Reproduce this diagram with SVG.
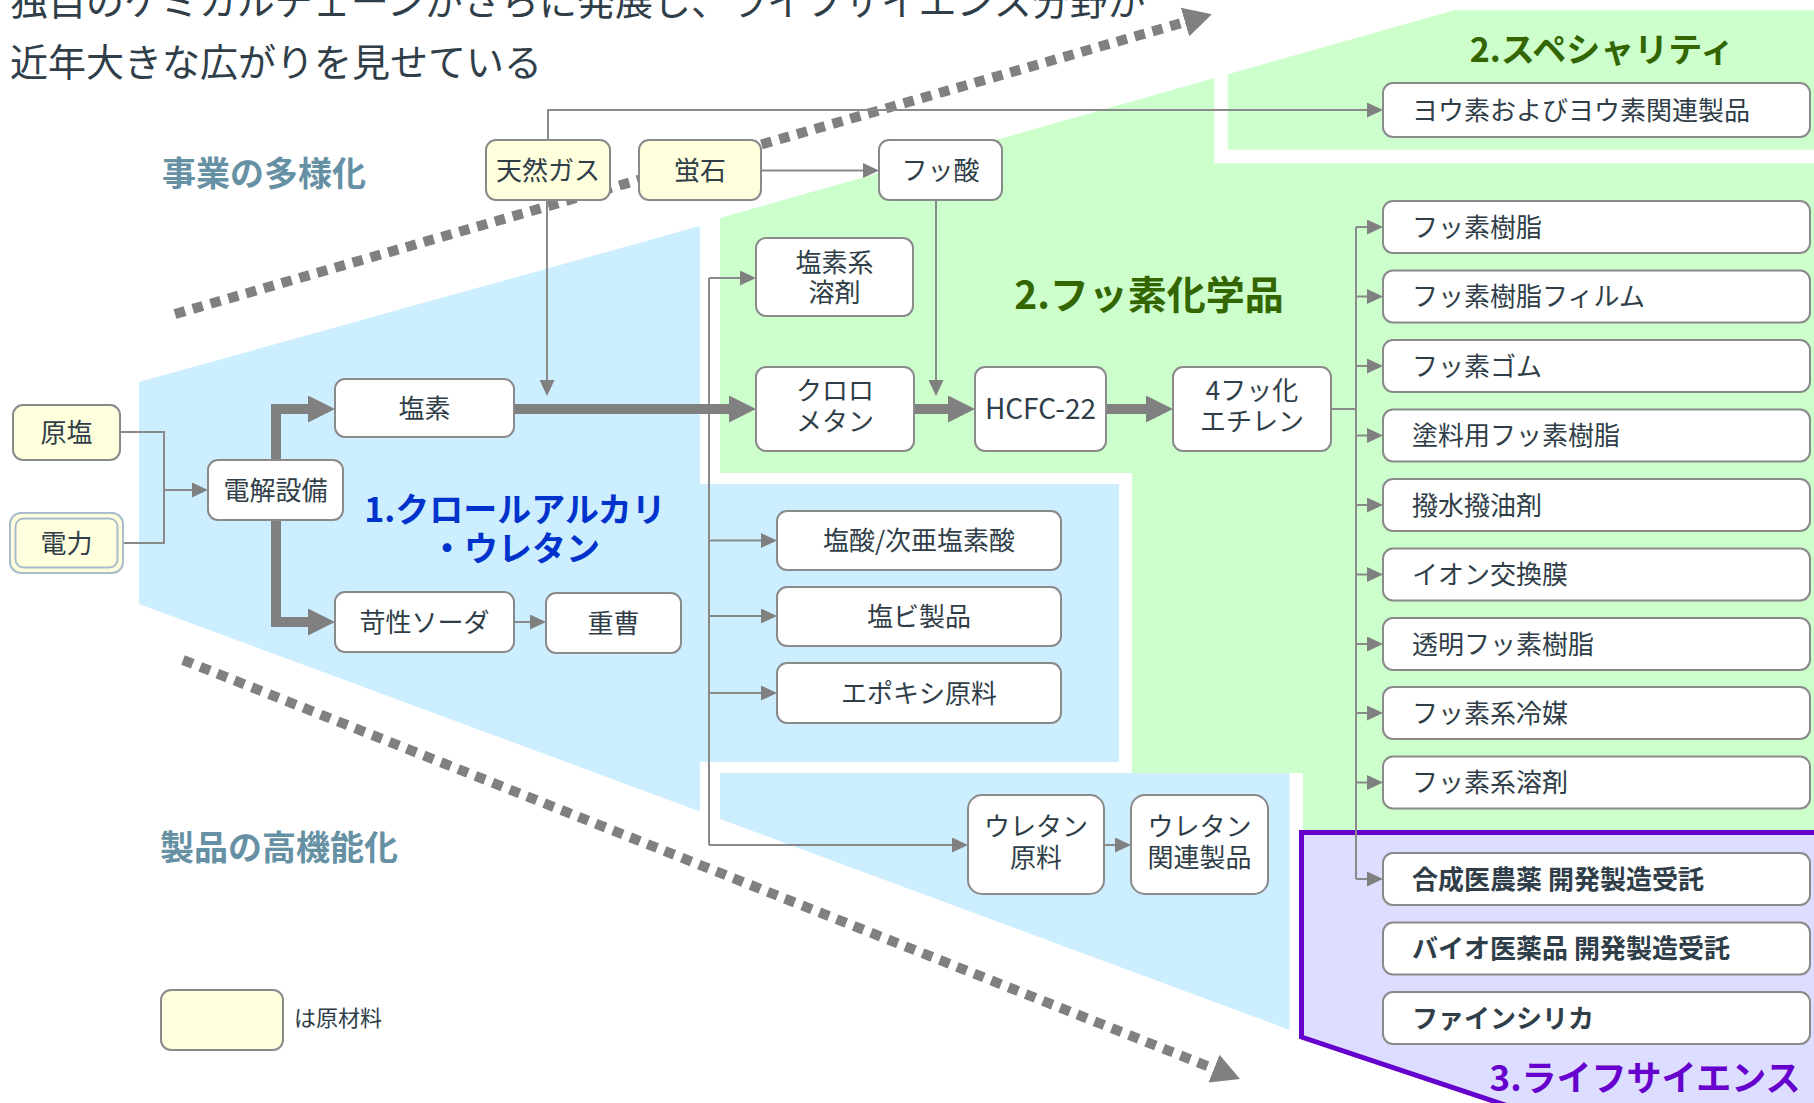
<svg xmlns="http://www.w3.org/2000/svg" width="1814" height="1103" viewBox="0 0 1814 1103">
<defs>
<style>
text{font-family:"Noto Sans CJK JP","Noto Sans",sans-serif;fill:#2f3e48}
.t{font-size:26px}
.c{text-anchor:middle}
.b{font-weight:bold}
.box{fill:#ffffff;stroke:#8a8a8a;stroke-width:2}
.raw{fill:#ffffdd;stroke:#8a8a8a;stroke-width:2}
.thin{fill:none;stroke:#8a8a8a;stroke-width:2}
.thick{fill:none;stroke:#808080;stroke-width:10;stroke-linejoin:miter}
.dot{fill:none;stroke:#808080;stroke-width:10;stroke-dasharray:10.5 8}
.sec{font-weight:bold;font-size:34px;fill:#6690a3}
</style>
<marker id="ah" markerUnits="userSpaceOnUse" markerWidth="16" markerHeight="15" refX="0" refY="7.5" orient="auto"><path d="M0,0 L16,7.5 L0,15 z" fill="#808080"/></marker>
<marker id="ahb" markerUnits="userSpaceOnUse" markerWidth="27" markerHeight="27" refX="0" refY="13.5" orient="auto"><path d="M0,0 L27,13.5 L0,27 z" fill="#808080"/></marker>
<marker id="ahd" markerUnits="userSpaceOnUse" markerWidth="28" markerHeight="30" refX="0" refY="15" orient="auto"><path d="M0,0 L28,15 L0,30 z" fill="#808080"/></marker>
</defs>
<rect width="1814" height="1103" fill="#ffffff"/>
<g id="backgrounds">
<path d="M720,218 L1455,10 L1814,10 L1814,830 L1303,830 L1303,773 L1132,773 L1132,473 L720,473 Z" fill="#ccffcc"/>
<path d="M1221,40 V156.5 H1820" fill="none" stroke="#ffffff" stroke-width="13.5"/>
<path d="M139,382 L700,226 L700,811.5 L139,604 Z" fill="#cceeff"/>
<rect x="700" y="484" width="419" height="278" fill="#cceeff"/>
<path d="M720,773 L1289.5,773 L1289.5,1029.8 L720,819 Z" fill="#cceeff"/>
<path d="M1301.5,832.5 L1830,832.5 L1830,1120 L1550,1120 L1301.5,1037 Z" fill="#ddddff" stroke="#6600cc" stroke-width="5"/>
</g>
<g id="titles">
<text x="10" y="15" style="font-size:38px">独自のケミカルチェーンがさらに発展し、ライフサイエンス分野が</text>
<text x="10" y="76" style="font-size:38px">近年大きな広がりを見せている</text>
<text x="162" y="186" class="sec">事業の多様化</text>
<text x="160" y="860" class="sec">製品の高機能化</text>
<text class="c b" style="font-size:34px;fill:#0033cc"><tspan x="515" y="522">1.クロールアルカリ</tspan><tspan x="515" y="561">・ウレタン</tspan></text>
<text x="1149" y="309" class="c b" style="font-size:39px;fill:#336600">2.フッ素化学品</text>
<text x="1602" y="62" class="c b" style="font-size:34px;fill:#336600">2.スペシャリティ</text>
<text x="1645" y="1091" class="c b" style="font-size:35px;fill:#6600cc">3.ライフサイエンス</text>
</g>
<g id="connectors">
<path class="dot" d="M175,314 L1185,22" marker-end="url(#ahd)"/>
<path class="dot" d="M183,660 L1214,1068.7" marker-end="url(#ahd)"/>
<path class="thin" d="M548,140 V110 H1367" marker-end="url(#ah)"/>
<path class="thin" d="M547,200 V380" marker-end="url(#ah)"/>
<path class="thin" d="M761,170.5 H863" marker-end="url(#ah)"/>
<path class="thin" d="M936,200 V380" marker-end="url(#ah)"/>
<path class="thin" d="M120,432 H164 V543 H120"/>
<path class="thin" d="M164,490 H192" marker-end="url(#ah)"/>
<path class="thin" d="M514,622 H530" marker-end="url(#ah)"/>
<path class="thin" d="M709,278 V845"/>
<path class="thin" d="M709,278 H740" marker-end="url(#ah)"/>
<path class="thin" d="M709,540.5 H761" marker-end="url(#ah)"/>
<path class="thin" d="M709,616 H761" marker-end="url(#ah)"/>
<path class="thin" d="M709,693 H761" marker-end="url(#ah)"/>
<path class="thin" d="M709,845 H952" marker-end="url(#ah)"/>
<path class="thin" d="M1104,845 H1115" marker-end="url(#ah)"/>
<path class="thin" d="M1331,409 H1356"/>
<path class="thin" d="M1356,227 V879"/>
<path class="thin" d="M1356,227 H1367" marker-end="url(#ah)"/>
<path class="thin" d="M1356,296.5 H1367" marker-end="url(#ah)"/>
<path class="thin" d="M1356,366 H1367" marker-end="url(#ah)"/>
<path class="thin" d="M1356,435.5 H1367" marker-end="url(#ah)"/>
<path class="thin" d="M1356,505 H1367" marker-end="url(#ah)"/>
<path class="thin" d="M1356,574.5 H1367" marker-end="url(#ah)"/>
<path class="thin" d="M1356,644 H1367" marker-end="url(#ah)"/>
<path class="thin" d="M1356,713 H1367" marker-end="url(#ah)"/>
<path class="thin" d="M1356,782.5 H1367" marker-end="url(#ah)"/>
<path class="thin" d="M1356,879 H1367" marker-end="url(#ah)"/>
<path class="thick" d="M514,409 H729" marker-end="url(#ahb)"/>
<path class="thick" d="M914,409 H948" marker-end="url(#ahb)"/>
<path class="thick" d="M1106,409 H1146" marker-end="url(#ahb)"/>
<path class="thick" d="M276,460 V409 H308" marker-end="url(#ahb)"/>
<path class="thick" d="M276,520 V622 H308" marker-end="url(#ahb)"/>
</g>
<g id="n-tennengas"><rect class="raw" x="486" y="140" width="124" height="60" rx="10"/><text class="t c" x="548" y="179.5">天然ガス</text></g>
<g id="n-hotaruishi"><rect class="raw" x="639" y="140" width="122" height="60" rx="10"/><text class="t c" x="700" y="179.5">蛍石</text></g>
<g id="n-fussan"><rect class="box" x="879" y="140" width="123" height="60" rx="10"/><text class="t c" x="940.5" y="179.5">フッ酸</text></g>
<g id="n-youso"><rect class="box" x="1383" y="83" width="427" height="54" rx="10"/><text class="t" x="1412" y="119.5">ヨウ素およびヨウ素関連製品</text></g>
<g id="n-ensokei"><rect class="box" x="756" y="238" width="157" height="78" rx="10"/><text class="t c"><tspan x="834.5" y="271.5">塩素系</tspan><tspan x="834.5" y="302">溶剤</tspan></text></g>
<g id="n-genen"><rect class="raw" x="13" y="405" width="107" height="55" rx="10"/><text class="t c" x="66.5" y="442">原塩</text></g>
<g id="n-denryoku"><rect x="10" y="513" width="113" height="60" rx="11" fill="#ffffdd" stroke="#a8bccb" stroke-width="2"/><rect x="15.5" y="518.5" width="102" height="49" rx="8" fill="none" stroke="#a8bccb" stroke-width="2"/><text class="t c" x="66.5" y="552.5">電力</text></g>
<g id="n-denkai"><rect class="box" x="208" y="460" width="135" height="60" rx="10"/><text class="t c" x="275.5" y="499.5">電解設備</text></g>
<g id="n-enso"><rect class="box" x="335" y="379" width="179" height="58" rx="10"/><text class="t c" x="424.5" y="417.5">塩素</text></g>
<g id="n-kasei"><rect class="box" x="335" y="592" width="179" height="60" rx="10"/><text class="t c" x="424.5" y="631.5">苛性ソーダ</text></g>
<g id="n-juso"><rect class="box" x="546" y="593" width="135" height="60" rx="10"/><text class="t c" x="613.5" y="632.5">重曹</text></g>
<g id="n-chloromethane"><rect class="box" x="756" y="367" width="158" height="84" rx="10"/><text class="t c"><tspan x="835" y="400">クロロ</tspan><tspan x="835" y="431">メタン</tspan></text></g>
<g id="n-hcfc22"><rect class="box" x="975" y="367" width="131" height="84" rx="10"/><text class="c" x="1040.5" y="419" style="font-size:28px">HCFC-22</text></g>
<g id="n-tfe"><rect class="box" x="1173" y="367" width="158" height="84" rx="10"/><text class="t c"><tspan x="1252" y="400">4フッ化</tspan><tspan x="1252" y="431">エチレン</tspan></text></g>
<g id="n-ensan"><rect class="box" x="777" y="511" width="284" height="59" rx="10"/><text class="t c" x="919" y="550">塩酸/次亜塩素酸</text></g>
<g id="n-enbi"><rect class="box" x="777" y="587" width="284" height="59" rx="10"/><text class="t c" x="919" y="625.5">塩ビ製品</text></g>
<g id="n-epoxy"><rect class="box" x="777" y="663" width="284" height="60" rx="10"/><text class="t c" x="919" y="702.5">エポキシ原料</text></g>
<g id="n-urethane-raw"><rect class="box" x="968" y="795" width="136" height="99" rx="14"/><text class="t c"><tspan x="1036" y="835.5">ウレタン</tspan><tspan x="1036" y="866.5">原料</tspan></text></g>
<g id="n-urethane-prod"><rect class="box" x="1131" y="795" width="137" height="99" rx="14"/><text class="t c"><tspan x="1199.5" y="835.5">ウレタン</tspan><tspan x="1199.5" y="866.5">関連製品</tspan></text></g>
<g id="n-f-resin"><rect class="box" x="1383" y="201" width="427" height="52" rx="10"/><text class="t" x="1412" y="236.5">フッ素樹脂</text></g>
<g id="n-f-film"><rect class="box" x="1383" y="270.5" width="427" height="52" rx="10"/><text class="t" x="1412" y="306">フッ素樹脂フィルム</text></g>
<g id="n-f-rubber"><rect class="box" x="1383" y="340" width="427" height="52" rx="10"/><text class="t" x="1412" y="375.5">フッ素ゴム</text></g>
<g id="n-f-coating"><rect class="box" x="1383" y="409.5" width="427" height="52" rx="10"/><text class="t" x="1412" y="445">塗料用フッ素樹脂</text></g>
<g id="n-repellent"><rect class="box" x="1383" y="479" width="427" height="52" rx="10"/><text class="t" x="1412" y="514.5">撥水撥油剤</text></g>
<g id="n-ion"><rect class="box" x="1383" y="548.5" width="427" height="52" rx="10"/><text class="t" x="1412" y="584">イオン交換膜</text></g>
<g id="n-clear"><rect class="box" x="1383" y="618" width="427" height="52" rx="10"/><text class="t" x="1412" y="653.5">透明フッ素樹脂</text></g>
<g id="n-refrigerant"><rect class="box" x="1383" y="687" width="427" height="52" rx="10"/><text class="t" x="1412" y="722.5">フッ素系冷媒</text></g>
<g id="n-solvent"><rect class="box" x="1383" y="756.5" width="427" height="52" rx="10"/><text class="t" x="1412" y="792">フッ素系溶剤</text></g>
<g id="n-cdmo"><rect class="box" x="1383" y="853" width="427" height="52" rx="10"/><text class="t b" x="1412" y="888.5">合成医農薬 開発製造受託</text></g>
<g id="n-bio"><rect class="box" x="1383" y="922.5" width="427" height="52" rx="10"/><text class="t b" x="1412" y="958">バイオ医薬品 開発製造受託</text></g>
<g id="n-silica"><rect class="box" x="1383" y="992" width="427" height="52" rx="10"/><text class="t b" x="1412" y="1027.5">ファインシリカ</text></g>
<g id="legend"><rect class="raw" x="161" y="990" width="122" height="60" rx="10"/><text x="294" y="1026" style="font-size:22px">は原材料</text></g>
</svg>
